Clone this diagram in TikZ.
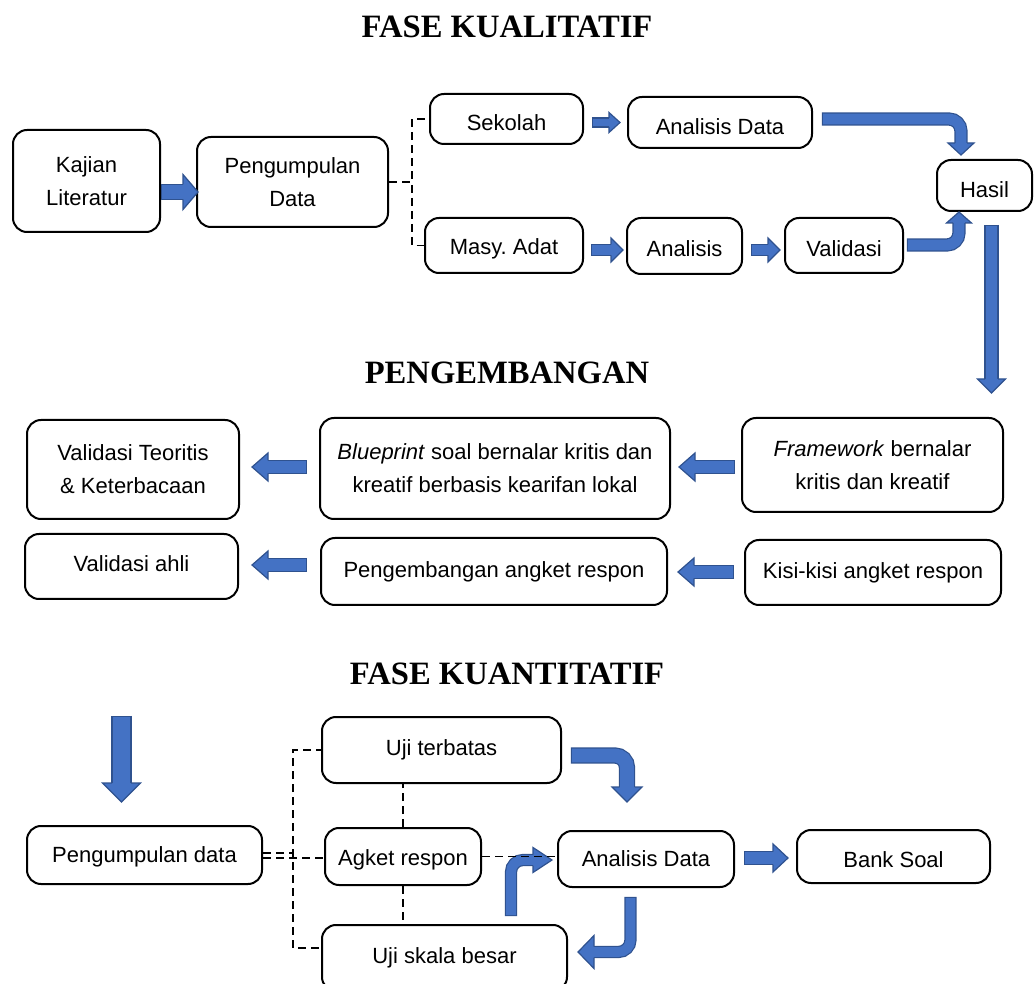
\documentclass[tikz,border=0pt]{standalone}
\usepackage{fontspec}
\setmainfont{Liberation Sans}
\newfontfamily\titlefont{Liberation Serif}
\usetikzlibrary{calc}
\definecolor{bfill}{HTML}{4472C4}
\definecolor{bline}{HTML}{2F528F}
\tikzset{
 box/.style={draw=black, line width=1pt, rounded corners=7pt, align=center, inner sep=0pt, font=\fontsize{11}{16.5}\selectfont},
 ttl/.style={font=\titlefont\bfseries\fontsize{16.3}{19}\selectfont},
 dcon/.style={draw=black, line width=0.6pt, dash pattern=on 4pt off 2.5pt},
}
% shaft: outer width, inner width, path
\newcommand\bsh[3]{%
 \draw[bline, line width=#1, shorten <=-0.6pt, rounded corners=6pt] #3;
 \draw[bfill, line width=#2, rounded corners=6pt] #3;}
% head: tip, angle, half head, head length, half shaft (px units)
\newcommand\bhead[5]{%
 \begin{scope}[shift={#1}, rotate=#2]
  \fill[bfill] (0,0) -- (-#4,#3) -- (-#4,-#3) -- cycle;
  \draw[bline, line width=0.6pt, line join=miter] (-#4,#5) -- (-#4,#3) -- (0,0) -- (-#4,-#3) -- (-#4,-#5);
 \end{scope}}
\newcommand\dn[2]{\raisebox{#1}[\height][\depth]{#2}}
\begin{document}
\begin{tikzpicture}[x=0.5pt,y=-0.5pt]
\useasboundingbox (0,0) rectangle (1035,984);
% titles
\node[ttl] (t1) at (507,27) {FASE KUALITATIF};
\node[ttl] (t2) at (507,373) {PENGEMBANGAN};
\node[ttl] (t3) at (507,674) {FASE KUANTITATIF};
% top boxes
\node[box, minimum width=73.5pt, minimum height=51pt] (kajian) at (86.5,181) {Kajian\\Literatur};
\node[box, minimum width=95.5pt, minimum height=45pt] (peng) at (292.5,182) {Pengumpulan\\Data};
\node[box, minimum width=76.5pt, minimum height=25pt] (sekolah) at (506.5,119) {\dn{-2pt}{Sekolah}};
\node[box, minimum width=92pt, minimum height=25.5pt] (ad1) at (720,122.5) {\dn{-2pt}{Analisis Data}};
\node[box, minimum width=47.5pt, minimum height=25.5pt] (hasil) at (984.5,185.5) {\dn{-2pt}{Hasil}};
\node[box, minimum width=79pt, minimum height=27.5pt] (masy) at (504,245.5) {\dn{-1.5pt}{Masy.\ Adat}};
\node[box, minimum width=57.5pt, minimum height=28pt] (anl) at (684.5,246) {\dn{-1.5pt}{Analisis}};
\node[box, minimum width=59pt, minimum height=27.5pt] (val) at (844,245.5) {\dn{-1.5pt}{Validasi}};
% middle boxes
\node[box, minimum width=106pt, minimum height=49.5pt] (vt) at (133,469.5) {Validasi Teoritis\\\& Keterbacaan};
\node[box, minimum width=175pt, minimum height=50.5pt] (bp) at (495,468.5) {\textit{Blueprint} soal bernalar kritis dan\\kreatif berbasis kearifan lokal};
\node[box, minimum width=130.5pt, minimum height=47pt] (fw) at (872.5,465) {\textit{Framework} bernalar\\kritis dan kreatif};
\node[box, minimum width=106.5pt, minimum height=32.5pt] (va) at (131.5,566.5) {\dn{1.5pt}{Validasi ahli}};
\node[box, minimum width=173pt, minimum height=33.5pt] (pa) at (494,571.5) {Pengembangan angket respon};
\node[box, minimum width=128pt, minimum height=32.5pt] (kk) at (873,572.5) {Kisi-kisi angket respon};
% bottom boxes
\node[box, minimum width=117.5pt, minimum height=29pt] (pd) at (144.5,855) {\dn{-1pt}{Pengumpulan data}};
\node[box, minimum width=119.5pt, minimum height=33pt] (ut) at (441.5,750) {Uji terbatas};
\node[box, minimum width=78pt, minimum height=28.5pt] (ar) at (403,856.5) {\dn{-1.5pt}{Agket respon}};
\node[box, minimum width=88pt, minimum height=28pt] (ad2) at (646,859) {Analisis Data};
\node[box, minimum width=96.5pt, minimum height=26.5pt] (bs) at (893.5,856.5) {\dn{-1.5pt}{Bank Soal}};
\node[box, minimum width=122.5pt, minimum height=33pt] (us) at (444.5,958) {Uji skala besar};
% straight block arrows
\bsh{8.1pt}{6.9pt}{(162,192) -- (184,192)} \bhead{(198,192)}{0}{17.5}{15}{7.5}
\bsh{5.1pt}{3.9pt}{(593,122.5) -- (610,122.5)} \bhead{(620,122.5)}{0}{10}{11}{4.5}
\bsh{6.1pt}{4.9pt}{(592,250) -- (612,250)} \bhead{(623,250)}{0}{12}{12}{5.5}
\bsh{6.1pt}{4.9pt}{(752,250) -- (769,250)} \bhead{(780,250)}{0}{12}{12}{5.5}
\bsh{7.1pt}{5.9pt}{(991.5,226) -- (991.5,380)} \bhead{(991.5,393)}{-90}{14}{14}{6.5}
\bsh{7.1pt}{5.9pt}{(734,467) -- (694,467)} \bhead{(679,467)}{180}{14}{16}{6.5}
\bsh{7.1pt}{5.9pt}{(306,467) -- (267,467)} \bhead{(252,467)}{180}{14}{16}{6.5}
\bsh{7.1pt}{5.9pt}{(733,572) -- (693,572)} \bhead{(678,572)}{180}{14}{16}{6.5}
\bsh{7.1pt}{5.9pt}{(306,565) -- (267,565)} \bhead{(252,565)}{180}{14}{16}{6.5}
\bsh{10.1pt}{8.9pt}{(121.5,717) -- (121.5,784)} \bhead{(121.5,802)}{-90}{19}{19}{9.5}
\bsh{7.1pt}{5.9pt}{(745,858) -- (774,858)} \bhead{(788,858)}{0}{14}{15}{6.5}
% bent block arrows
\bsh{6.6pt}{5.4pt}{(823,119) -| (961,144)} \bhead{(961,155)}{-90}{13}{12}{6}
\bsh{6.6pt}{5.4pt}{(908,245) -| (959,222)} \bhead{(959,212)}{90}{12.5}{11}{6}
\bsh{8.1pt}{6.9pt}{(572,755.5) -| (627,788)} \bhead{(627,802)}{-90}{15}{15}{7.5}
\bsh{6.1pt}{4.9pt}{(630.5,898) |- (593,952)} \bhead{(578,952)}{180}{16.5}{16}{5.5}
\bsh{6.1pt}{4.9pt}{(511,915) |- (534,860)} \bhead{(552,860)}{0}{12.5}{19}{5.5}
% dashed connectors
\coordinate (j1) at (412,182);
\draw[dcon] (peng.east) -- (j1) |- (sekolah.west);
\draw[dcon] (peng.east) -- (j1) |- (masy.west);
\coordinate (j2) at (293,853);
\draw[dcon] ([yshift=1pt]pd.east) -- (j2) |- (ut.west);
\draw[dcon] ([yshift=1pt]pd.east) -- (j2) |- ([yshift=5pt]us.west);
\draw[dcon] ([yshift=-1.5pt]pd.east) -- ([yshift=-1.5pt]pd.east -| ar.west);
\draw[dcon] (ar.north) -- (ar.north |- ut.south);
\draw[dcon] (ar.south) -- (ar.south |- us.north);
\draw[dcon] (ar.east) -- (ar.east -| ad2.west);
\end{tikzpicture}
\end{document}
